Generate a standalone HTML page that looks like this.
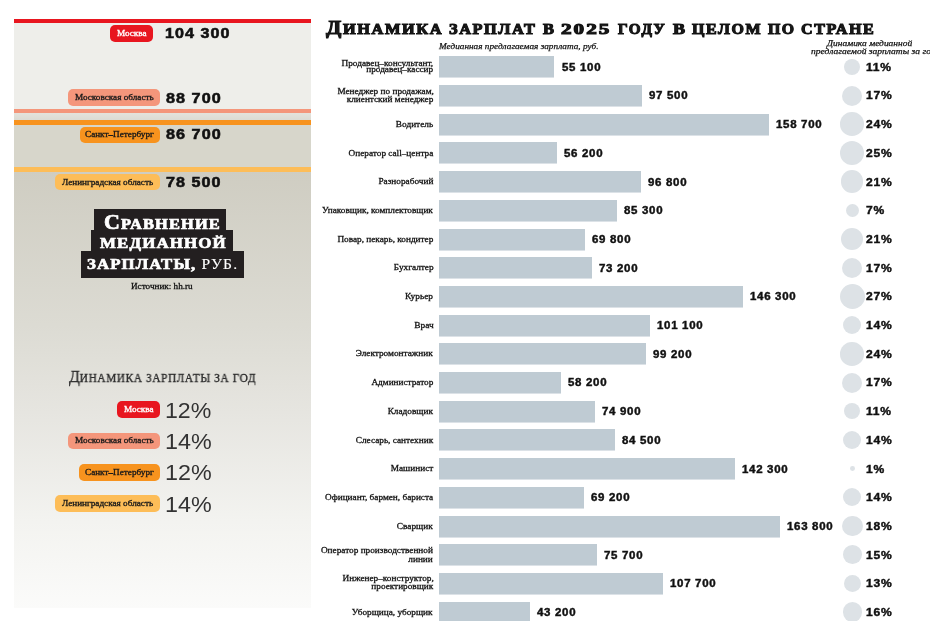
<!DOCTYPE html>
<html><head><meta charset="utf-8">
<style>
*{margin:0;padding:0;box-sizing:border-box}
html,body{width:930px;height:621px;overflow:hidden;background:#fff;position:relative}
body{font-family:"Liberation Sans",sans-serif;color:#1a1a1a}
.t{position:absolute;white-space:nowrap;will-change:transform}
.band{position:absolute;left:0;width:297px}
.badge{position:absolute;border-radius:5px}
.blk{position:absolute;background:#231f20}
.bar{position:absolute;left:439px;height:21px;background:#bfcbd3;box-shadow:0 1px 0 rgba(191,203,211,0.55)}
.circ{position:absolute;border-radius:50%;background:#dde2e6}
</style></head><body>
<div style="position:absolute;left:14px;top:19px;width:297px;height:589px;overflow:hidden">
  <div class="band" style="top:0;height:4.3px;background:#e8161f"></div>
  <div class="band" style="top:4.3px;height:85.5px;background:#eeeeea"></div>
  <div class="band" style="top:89.6px;height:4.4px;background:#f4967b"></div>
  <div class="band" style="top:94px;height:6.5px;background:linear-gradient(#e4e3dc,#dcdbd3)"></div>
  <div class="band" style="top:100.5px;height:5.5px;background:#f7931e"></div>
  <div class="band" style="top:106px;height:42.3px;background:#d7d6cb"></div>
  <div class="band" style="top:148.3px;height:4.5px;background:#fdbd58"></div>
  <div class="band" style="top:152.8px;height:437px;background:linear-gradient(#cfcdc2 0%,#dcdbd3 35%,#e6e5e0 55%,#f3f3f0 80%,#fbfbfa 100%)"></div>
</div>
<div class="badge" style="left:110.20px;top:25.20px;width:42.40px;height:16.50px;background:#e8161f"></div>
<div class="t" style="left:116.50px;transform-origin:0 0;top:29.05px;font-family:'Liberation Serif',serif;font-weight:normal;font-style:normal;font-size:9.20px;line-height:9.20px;color:#fff;-webkit-text-stroke:0.35px #fff;">Москва</div>
<div class="t" style="left:165.22px;transform-origin:0 0;top:26.15px;font-family:'Liberation Sans',sans-serif;font-weight:bold;font-style:normal;font-size:14.00px;line-height:14.00px;color:#111;transform:scaleX(1.1502);-webkit-text-stroke:0.55px #111;letter-spacing:0.9px;">104 300</div>
<div class="badge" style="left:68.40px;top:89.20px;width:91.30px;height:16.60px;background:#f4967b"></div>
<div class="t" style="left:74.65px;transform-origin:0 0;top:93.09px;font-family:'Liberation Serif',serif;font-weight:normal;font-style:normal;font-size:9.20px;line-height:9.20px;color:#1a1a1a;-webkit-text-stroke:0.35px #1a1a1a;">Московская область</div>
<div class="t" style="left:165.54px;transform-origin:0 0;top:90.75px;font-family:'Liberation Sans',sans-serif;font-weight:bold;font-style:normal;font-size:14.00px;line-height:14.00px;color:#111;transform:scaleX(1.1552);-webkit-text-stroke:0.55px #111;letter-spacing:0.9px;">88 700</div>
<div class="badge" style="left:79.60px;top:126.50px;width:80.10px;height:16.40px;background:#f7931e"></div>
<div class="t" style="left:85.15px;transform-origin:0 0;top:130.29px;font-family:'Liberation Serif',serif;font-weight:normal;font-style:normal;font-size:9.20px;line-height:9.20px;color:#1a1a1a;-webkit-text-stroke:0.35px #1a1a1a;">Санкт–Петербург</div>
<div class="t" style="left:165.54px;transform-origin:0 0;top:127.25px;font-family:'Liberation Sans',sans-serif;font-weight:bold;font-style:normal;font-size:14.00px;line-height:14.00px;color:#111;transform:scaleX(1.1552);-webkit-text-stroke:0.55px #111;letter-spacing:0.9px;">86 700</div>
<div class="badge" style="left:54.50px;top:174.10px;width:105.20px;height:16.40px;background:#fdbd58"></div>
<div class="t" style="left:61.57px;transform-origin:0 0;top:177.90px;font-family:'Liberation Serif',serif;font-weight:normal;font-style:normal;font-size:9.20px;line-height:9.20px;color:#1a1a1a;-webkit-text-stroke:0.35px #1a1a1a;">Ленинградская область</div>
<div class="t" style="left:165.71px;transform-origin:0 0;top:174.85px;font-family:'Liberation Sans',sans-serif;font-weight:bold;font-style:normal;font-size:14.00px;line-height:14.00px;color:#111;transform:scaleX(1.1515);-webkit-text-stroke:0.55px #111;letter-spacing:0.9px;">78 500</div>
<div class="badge" style="left:117.00px;top:401.40px;width:43.00px;height:16.60px;background:#e8161f"></div>
<div class="t" style="left:123.60px;transform-origin:0 0;top:405.30px;font-family:'Liberation Serif',serif;font-weight:normal;font-style:normal;font-size:9.20px;line-height:9.20px;color:#fff;-webkit-text-stroke:0.35px #fff;">Москва</div>
<div class="t" style="left:165.35px;transform-origin:0 0;top:399.55px;font-family:'Liberation Sans',sans-serif;font-weight:normal;font-style:normal;font-size:21.80px;line-height:21.80px;color:#333;transform:scaleX(1.0618);">12%</div>
<div class="badge" style="left:68.30px;top:432.50px;width:91.50px;height:16.50px;background:#f4967b"></div>
<div class="t" style="left:74.65px;transform-origin:0 0;top:436.35px;font-family:'Liberation Serif',serif;font-weight:normal;font-style:normal;font-size:9.20px;line-height:9.20px;color:#1a1a1a;-webkit-text-stroke:0.35px #1a1a1a;">Московская область</div>
<div class="t" style="left:165.14px;transform-origin:0 0;top:430.55px;font-family:'Liberation Sans',sans-serif;font-weight:normal;font-style:normal;font-size:21.80px;line-height:21.80px;color:#333;transform:scaleX(1.0691);">14%</div>
<div class="badge" style="left:79.10px;top:464.10px;width:80.70px;height:16.50px;background:#f7931e"></div>
<div class="t" style="left:84.95px;transform-origin:0 0;top:467.95px;font-family:'Liberation Serif',serif;font-weight:normal;font-style:normal;font-size:9.20px;line-height:9.20px;color:#1a1a1a;-webkit-text-stroke:0.35px #1a1a1a;">Санкт–Петербург</div>
<div class="t" style="left:165.14px;transform-origin:0 0;top:462.15px;font-family:'Liberation Sans',sans-serif;font-weight:normal;font-style:normal;font-size:21.80px;line-height:21.80px;color:#333;transform:scaleX(1.0691);">12%</div>
<div class="badge" style="left:54.60px;top:495.30px;width:105.20px;height:16.70px;background:#fdbd58"></div>
<div class="t" style="left:61.68px;transform-origin:0 0;top:499.25px;font-family:'Liberation Serif',serif;font-weight:normal;font-style:normal;font-size:9.20px;line-height:9.20px;color:#1a1a1a;-webkit-text-stroke:0.35px #1a1a1a;">Ленинградская область</div>
<div class="t" style="left:165.14px;transform-origin:0 0;top:493.55px;font-family:'Liberation Sans',sans-serif;font-weight:normal;font-style:normal;font-size:21.80px;line-height:21.80px;color:#333;transform:scaleX(1.0691);">14%</div>
<div class="blk" style="left:94px;top:209.4px;width:132.4px;height:21px"></div>
<div class="blk" style="left:91.2px;top:229.8px;width:142px;height:22px"></div>
<div class="blk" style="left:80.5px;top:251px;width:163.9px;height:26.7px"></div>
<div class="t" style="left:103.96px;transform-origin:0 0;top:211.75px;font-family:'Liberation Serif',serif;font-weight:bold;font-style:normal;font-size:20.00px;line-height:20.00px;color:#fff;transform:scaleX(1.0974);-webkit-text-stroke:0.7px #fff;letter-spacing:1.0px;">С<span style="font-size:15.0px">РАВНЕНИЕ</span></div>
<div class="t" style="left:99.53px;transform-origin:0 0;top:235.10px;font-family:'Liberation Serif',serif;font-weight:bold;font-style:normal;font-size:15.40px;line-height:15.40px;color:#fff;transform:scaleX(1.0987);-webkit-text-stroke:0.7px #fff;letter-spacing:1.0px;">МЕДИАННОЙ</div>
<div class="t" style="left:86.83px;transform-origin:0 0;top:255.59px;font-family:'Liberation Serif',serif;font-weight:bold;font-style:normal;font-size:15.30px;line-height:15.30px;color:#fff;transform:scaleX(1.0983);-webkit-text-stroke:0.7px #fff;letter-spacing:1.0px;">ЗАРПЛАТЫ, <span style="font-weight:normal;-webkit-text-stroke:0.1px #fff;font-size:14.2px">РУБ.</span></div>
<div class="t" style="left:131.04px;transform-origin:0 0;top:282.03px;font-family:'Liberation Serif',serif;font-weight:normal;font-style:normal;font-size:8.80px;line-height:8.80px;color:#111;transform:scaleX(1.0416);-webkit-text-stroke:0.3px #111;">Источник: hh.ru</div>
<div class="t" style="left:68.81px;transform-origin:0 0;top:368.36px;font-family:'Liberation Serif',serif;font-weight:normal;font-style:normal;font-size:17.00px;line-height:17.00px;color:#2b2b2b;transform:scaleX(0.9366);-webkit-text-stroke:0.35px #2b2b2b;">Д<span style="font-size:12.0px;letter-spacing:0.7px">ИНАМИКА ЗАРПЛАТЫ ЗА ГОД</span></div>
<div class="t" style="left:325.60px;top:17.58px;font-family:'Liberation Serif',serif;font-weight:bold;font-size:19.6px;line-height:19.6px;transform-origin:0 0;transform:scaleX(1.1416);-webkit-text-stroke:1.0px #111;color:#1a1a1a">Д<span style="font-size:14.3px;letter-spacing:1.4px;margin-left:1.4px">ИНАМИКА</span></div>
<div class="t" style="left:448.96px;transform-origin:0 0;top:22.02px;font-family:'Liberation Serif',serif;font-weight:bold;font-style:normal;font-size:14.30px;line-height:14.30px;color:#1a1a1a;transform:scaleX(1.1388);-webkit-text-stroke:1.0px #111;letter-spacing:1.4px;">ЗАРПЛАТ</div>
<div class="t" style="left:543.47px;transform-origin:0 0;top:22.02px;font-family:'Liberation Serif',serif;font-weight:bold;font-style:normal;font-size:14.30px;line-height:14.30px;color:#1a1a1a;transform:scaleX(1.1508);-webkit-text-stroke:1.0px #111;letter-spacing:1.4px;">В</div>
<div class="t" style="left:561.11px;transform-origin:0 0;top:22.02px;font-family:'Liberation Serif',serif;font-weight:bold;font-style:normal;font-size:14.30px;line-height:14.30px;color:#1a1a1a;transform:scaleX(1.4763);-webkit-text-stroke:1.0px #111;letter-spacing:1.4px;">2025</div>
<div class="t" style="left:618.23px;transform-origin:0 0;top:22.02px;font-family:'Liberation Serif',serif;font-weight:bold;font-style:normal;font-size:14.30px;line-height:14.30px;color:#1a1a1a;transform:scaleX(1.0657);-webkit-text-stroke:1.0px #111;letter-spacing:1.4px;">ГОДУ</div>
<div class="t" style="left:672.75px;transform-origin:0 0;top:22.02px;font-family:'Liberation Serif',serif;font-weight:bold;font-style:normal;font-size:14.30px;line-height:14.30px;color:#1a1a1a;transform:scaleX(1.2626);-webkit-text-stroke:1.0px #111;letter-spacing:1.4px;">В</div>
<div class="t" style="left:691.72px;transform-origin:0 0;top:22.02px;font-family:'Liberation Serif',serif;font-weight:bold;font-style:normal;font-size:14.30px;line-height:14.30px;color:#1a1a1a;transform:scaleX(1.1170);-webkit-text-stroke:1.0px #111;letter-spacing:1.4px;">ЦЕЛОМ</div>
<div class="t" style="left:767.92px;transform-origin:0 0;top:22.02px;font-family:'Liberation Serif',serif;font-weight:bold;font-style:normal;font-size:14.30px;line-height:14.30px;color:#1a1a1a;transform:scaleX(1.1057);-webkit-text-stroke:1.0px #111;letter-spacing:1.4px;">ПО</div>
<div class="t" style="left:800.97px;transform-origin:0 0;top:22.02px;font-family:'Liberation Serif',serif;font-weight:bold;font-style:normal;font-size:14.30px;line-height:14.30px;color:#1a1a1a;transform:scaleX(1.1246);-webkit-text-stroke:1.0px #111;letter-spacing:1.4px;">СТРАНЕ</div>
<div class="t" style="left:439.45px;transform-origin:0 0;top:42.40px;font-family:'Liberation Serif',serif;font-weight:normal;font-style:italic;font-size:9.20px;line-height:9.20px;color:#111;transform:scaleX(1.0070);-webkit-text-stroke:0.25px #111;">Медианная предлагаемая зарплата, руб.</div>
<div class="t" style="left:827.37px;transform-origin:0 0;top:39.10px;font-family:'Liberation Serif',serif;font-weight:normal;font-style:italic;font-size:8.60px;line-height:8.60px;color:#111;transform:scaleX(1.0985);-webkit-text-stroke:0.25px #111;">Динамика медианной</div>
<div class="t" style="left:810.57px;transform-origin:0 0;top:47.30px;font-family:'Liberation Serif',serif;font-weight:normal;font-style:italic;font-size:8.60px;line-height:8.60px;color:#111;transform:scaleX(1.1084);-webkit-text-stroke:0.25px #111;">предлагаемой зарплаты за год</div>
<div class="bar" style="top:56.30px;width:115.27px"></div>
<div class="t" style="right:496.44px;transform-origin:100% 0;text-align:right;top:59.06px;font-family:'Liberation Serif',serif;font-weight:normal;font-style:normal;font-size:9.00px;line-height:9.00px;color:#111;transform:scaleX(1.0279);-webkit-text-stroke:0.3px #111;">Продавец–консультант,</div>
<div class="t" style="right:496.67px;transform-origin:100% 0;text-align:right;top:65.46px;font-family:'Liberation Serif',serif;font-weight:normal;font-style:normal;font-size:9.00px;line-height:9.00px;color:#111;transform:scaleX(1.0274);-webkit-text-stroke:0.3px #111;">продавец–кассир</div>
<div class="t" style="left:561.52px;transform-origin:0 0;top:62.73px;font-family:'Liberation Sans',sans-serif;font-weight:bold;font-style:normal;font-size:10.00px;line-height:10.00px;color:#111;transform:scaleX(1.1472);-webkit-text-stroke:0.4px #111;letter-spacing:0.6px;">55 100</div>
<div class="circ" style="top:58.76px;left:844.26px;width:16.09px;height:16.09px"></div>
<div class="t" style="left:866.08px;transform-origin:0 0;top:62.73px;font-family:'Liberation Sans',sans-serif;font-weight:bold;font-style:normal;font-size:10.00px;line-height:10.00px;color:#111;transform:scaleX(1.2071);-webkit-text-stroke:0.4px #111;letter-spacing:0.6px;">11%</div>
<div class="bar" style="top:85.00px;width:203.20px"></div>
<div class="t" style="right:496.44px;transform-origin:100% 0;text-align:right;top:87.16px;font-family:'Liberation Serif',serif;font-weight:normal;font-style:normal;font-size:9.00px;line-height:9.00px;color:#111;transform:scaleX(1.0278);-webkit-text-stroke:0.3px #111;">Менеджер по продажам,</div>
<div class="t" style="right:496.65px;transform-origin:100% 0;text-align:right;top:94.56px;font-family:'Liberation Serif',serif;font-weight:normal;font-style:normal;font-size:9.00px;line-height:9.00px;color:#111;transform:scaleX(1.0268);-webkit-text-stroke:0.3px #111;">клиентский менеджер</div>
<div class="t" style="left:649.45px;transform-origin:0 0;top:91.44px;font-family:'Liberation Sans',sans-serif;font-weight:bold;font-style:normal;font-size:10.00px;line-height:10.00px;color:#111;transform:scaleX(1.1472);-webkit-text-stroke:0.4px #111;letter-spacing:0.6px;">97 500</div>
<div class="circ" style="top:85.50px;left:842.30px;width:20.00px;height:20.00px"></div>
<div class="t" style="left:866.08px;transform-origin:0 0;top:91.44px;font-family:'Liberation Sans',sans-serif;font-weight:bold;font-style:normal;font-size:10.00px;line-height:10.00px;color:#111;transform:scaleX(1.2071);-webkit-text-stroke:0.4px #111;letter-spacing:0.6px;">17%</div>
<div class="bar" style="top:113.70px;width:330.11px"></div>
<div class="t" style="right:496.73px;transform-origin:100% 0;text-align:right;top:119.86px;font-family:'Liberation Serif',serif;font-weight:normal;font-style:normal;font-size:9.00px;line-height:9.00px;color:#111;transform:scaleX(1.0322);-webkit-text-stroke:0.3px #111;">Водитель</div>
<div class="t" style="left:776.02px;transform-origin:0 0;top:120.13px;font-family:'Liberation Sans',sans-serif;font-weight:bold;font-style:normal;font-size:10.00px;line-height:10.00px;color:#111;transform:scaleX(1.1472);-webkit-text-stroke:0.4px #111;letter-spacing:0.6px;">158 700</div>
<div class="circ" style="top:112.32px;left:840.42px;width:23.76px;height:23.76px"></div>
<div class="t" style="left:866.44px;transform-origin:0 0;top:120.13px;font-family:'Liberation Sans',sans-serif;font-weight:bold;font-style:normal;font-size:10.00px;line-height:10.00px;color:#111;transform:scaleX(1.2071);-webkit-text-stroke:0.4px #111;letter-spacing:0.6px;">24%</div>
<div class="bar" style="top:142.40px;width:117.55px"></div>
<div class="t" style="right:496.91px;transform-origin:100% 0;text-align:right;top:148.56px;font-family:'Liberation Serif',serif;font-weight:normal;font-style:normal;font-size:9.00px;line-height:9.00px;color:#111;transform:scaleX(1.0294);-webkit-text-stroke:0.3px #111;">Оператор call–центра</div>
<div class="t" style="left:563.80px;transform-origin:0 0;top:148.83px;font-family:'Liberation Sans',sans-serif;font-weight:bold;font-style:normal;font-size:10.00px;line-height:10.00px;color:#111;transform:scaleX(1.1472);-webkit-text-stroke:0.4px #111;letter-spacing:0.6px;">56 200</div>
<div class="circ" style="top:140.77px;left:840.17px;width:24.25px;height:24.25px"></div>
<div class="t" style="left:866.44px;transform-origin:0 0;top:148.83px;font-family:'Liberation Sans',sans-serif;font-weight:bold;font-style:normal;font-size:10.00px;line-height:10.00px;color:#111;transform:scaleX(1.2071);-webkit-text-stroke:0.4px #111;letter-spacing:0.6px;">25%</div>
<div class="bar" style="top:171.10px;width:201.74px"></div>
<div class="t" style="right:496.82px;transform-origin:100% 0;text-align:right;top:177.26px;font-family:'Liberation Serif',serif;font-weight:normal;font-style:normal;font-size:9.00px;line-height:9.00px;color:#111;transform:scaleX(1.0298);-webkit-text-stroke:0.3px #111;">Разнорабочий</div>
<div class="t" style="left:648.00px;transform-origin:0 0;top:177.53px;font-family:'Liberation Sans',sans-serif;font-weight:bold;font-style:normal;font-size:10.00px;line-height:10.00px;color:#111;transform:scaleX(1.1472);-webkit-text-stroke:0.4px #111;letter-spacing:0.6px;">96 800</div>
<div class="circ" style="top:170.49px;left:841.19px;width:22.23px;height:22.23px"></div>
<div class="t" style="left:866.44px;transform-origin:0 0;top:177.53px;font-family:'Liberation Sans',sans-serif;font-weight:bold;font-style:normal;font-size:10.00px;line-height:10.00px;color:#111;transform:scaleX(1.2071);-webkit-text-stroke:0.4px #111;letter-spacing:0.6px;">21%</div>
<div class="bar" style="top:199.80px;width:177.90px"></div>
<div class="t" style="right:497.05px;transform-origin:100% 0;text-align:right;top:205.96px;font-family:'Liberation Serif',serif;font-weight:normal;font-style:normal;font-size:9.00px;line-height:9.00px;color:#111;transform:scaleX(1.0274);-webkit-text-stroke:0.3px #111;">Упаковщик, комплектовщик</div>
<div class="t" style="left:624.15px;transform-origin:0 0;top:206.24px;font-family:'Liberation Sans',sans-serif;font-weight:bold;font-style:normal;font-size:10.00px;line-height:10.00px;color:#111;transform:scaleX(1.1472);-webkit-text-stroke:0.4px #111;letter-spacing:0.6px;">85 300</div>
<div class="circ" style="top:203.88px;left:845.88px;width:12.83px;height:12.83px"></div>
<div class="t" style="left:866.32px;transform-origin:0 0;top:206.24px;font-family:'Liberation Sans',sans-serif;font-weight:bold;font-style:normal;font-size:10.00px;line-height:10.00px;color:#111;transform:scaleX(1.2071);-webkit-text-stroke:0.4px #111;letter-spacing:0.6px;">7%</div>
<div class="bar" style="top:228.50px;width:145.75px"></div>
<div class="t" style="right:496.67px;transform-origin:100% 0;text-align:right;top:234.66px;font-family:'Liberation Serif',serif;font-weight:normal;font-style:normal;font-size:9.00px;line-height:9.00px;color:#111;transform:scaleX(1.0278);-webkit-text-stroke:0.3px #111;">Повар, пекарь, кондитер</div>
<div class="t" style="left:591.95px;transform-origin:0 0;top:234.94px;font-family:'Liberation Sans',sans-serif;font-weight:bold;font-style:normal;font-size:10.00px;line-height:10.00px;color:#111;transform:scaleX(1.1472);-webkit-text-stroke:0.4px #111;letter-spacing:0.6px;">69 800</div>
<div class="circ" style="top:227.89px;left:841.19px;width:22.23px;height:22.23px"></div>
<div class="t" style="left:866.44px;transform-origin:0 0;top:234.94px;font-family:'Liberation Sans',sans-serif;font-weight:bold;font-style:normal;font-size:10.00px;line-height:10.00px;color:#111;transform:scaleX(1.2071);-webkit-text-stroke:0.4px #111;letter-spacing:0.6px;">21%</div>
<div class="bar" style="top:257.20px;width:152.80px"></div>
<div class="t" style="right:496.66px;transform-origin:100% 0;text-align:right;top:263.36px;font-family:'Liberation Serif',serif;font-weight:normal;font-style:normal;font-size:9.00px;line-height:9.00px;color:#111;transform:scaleX(1.0317);-webkit-text-stroke:0.3px #111;">Бухгалтер</div>
<div class="t" style="left:598.94px;transform-origin:0 0;top:263.63px;font-family:'Liberation Sans',sans-serif;font-weight:bold;font-style:normal;font-size:10.00px;line-height:10.00px;color:#111;transform:scaleX(1.1472);-webkit-text-stroke:0.4px #111;letter-spacing:0.6px;">73 200</div>
<div class="circ" style="top:257.70px;left:842.30px;width:20.00px;height:20.00px"></div>
<div class="t" style="left:866.08px;transform-origin:0 0;top:263.63px;font-family:'Liberation Sans',sans-serif;font-weight:bold;font-style:normal;font-size:10.00px;line-height:10.00px;color:#111;transform:scaleX(1.2071);-webkit-text-stroke:0.4px #111;letter-spacing:0.6px;">17%</div>
<div class="bar" style="top:285.90px;width:304.40px"></div>
<div class="t" style="right:496.66px;transform-origin:100% 0;text-align:right;top:292.06px;font-family:'Liberation Serif',serif;font-weight:normal;font-style:normal;font-size:9.00px;line-height:9.00px;color:#111;transform:scaleX(1.0347);-webkit-text-stroke:0.3px #111;">Курьер</div>
<div class="t" style="left:750.31px;transform-origin:0 0;top:292.33px;font-family:'Liberation Sans',sans-serif;font-weight:bold;font-style:normal;font-size:10.00px;line-height:10.00px;color:#111;transform:scaleX(1.1472);-webkit-text-stroke:0.4px #111;letter-spacing:0.6px;">146 300</div>
<div class="circ" style="top:283.80px;left:839.70px;width:25.20px;height:25.20px"></div>
<div class="t" style="left:866.44px;transform-origin:0 0;top:292.33px;font-family:'Liberation Sans',sans-serif;font-weight:bold;font-style:normal;font-size:10.00px;line-height:10.00px;color:#111;transform:scaleX(1.2071);-webkit-text-stroke:0.4px #111;letter-spacing:0.6px;">27%</div>
<div class="bar" style="top:314.60px;width:210.66px"></div>
<div class="t" style="right:496.83px;transform-origin:100% 0;text-align:right;top:320.76px;font-family:'Liberation Serif',serif;font-weight:normal;font-style:normal;font-size:9.00px;line-height:9.00px;color:#111;transform:scaleX(1.0390);-webkit-text-stroke:0.3px #111;">Врач</div>
<div class="t" style="left:656.57px;transform-origin:0 0;top:321.04px;font-family:'Liberation Sans',sans-serif;font-weight:bold;font-style:normal;font-size:10.00px;line-height:10.00px;color:#111;transform:scaleX(1.1472);-webkit-text-stroke:0.4px #111;letter-spacing:0.6px;">101 100</div>
<div class="circ" style="top:316.03px;left:843.23px;width:18.15px;height:18.15px"></div>
<div class="t" style="left:866.08px;transform-origin:0 0;top:321.04px;font-family:'Liberation Sans',sans-serif;font-weight:bold;font-style:normal;font-size:10.00px;line-height:10.00px;color:#111;transform:scaleX(1.2071);-webkit-text-stroke:0.4px #111;letter-spacing:0.6px;">14%</div>
<div class="bar" style="top:343.30px;width:206.72px"></div>
<div class="t" style="right:497.04px;transform-origin:100% 0;text-align:right;top:349.46px;font-family:'Liberation Serif',serif;font-weight:normal;font-style:normal;font-size:9.00px;line-height:9.00px;color:#111;transform:scaleX(1.0312);-webkit-text-stroke:0.3px #111;">Электромонтажник</div>
<div class="t" style="left:652.98px;transform-origin:0 0;top:349.74px;font-family:'Liberation Sans',sans-serif;font-weight:bold;font-style:normal;font-size:10.00px;line-height:10.00px;color:#111;transform:scaleX(1.1472);-webkit-text-stroke:0.4px #111;letter-spacing:0.6px;">99 200</div>
<div class="circ" style="top:341.92px;left:840.42px;width:23.76px;height:23.76px"></div>
<div class="t" style="left:866.44px;transform-origin:0 0;top:349.74px;font-family:'Liberation Sans',sans-serif;font-weight:bold;font-style:normal;font-size:10.00px;line-height:10.00px;color:#111;transform:scaleX(1.2071);-webkit-text-stroke:0.4px #111;letter-spacing:0.6px;">24%</div>
<div class="bar" style="top:372.00px;width:121.70px"></div>
<div class="t" style="right:496.66px;transform-origin:100% 0;text-align:right;top:378.16px;font-family:'Liberation Serif',serif;font-weight:normal;font-style:normal;font-size:9.00px;line-height:9.00px;color:#111;transform:scaleX(1.0259);-webkit-text-stroke:0.3px #111;">Администратор</div>
<div class="t" style="left:567.95px;transform-origin:0 0;top:378.44px;font-family:'Liberation Sans',sans-serif;font-weight:bold;font-style:normal;font-size:10.00px;line-height:10.00px;color:#111;transform:scaleX(1.1472);-webkit-text-stroke:0.4px #111;letter-spacing:0.6px;">58 200</div>
<div class="circ" style="top:372.50px;left:842.30px;width:20.00px;height:20.00px"></div>
<div class="t" style="left:866.08px;transform-origin:0 0;top:378.44px;font-family:'Liberation Sans',sans-serif;font-weight:bold;font-style:normal;font-size:10.00px;line-height:10.00px;color:#111;transform:scaleX(1.2071);-webkit-text-stroke:0.4px #111;letter-spacing:0.6px;">17%</div>
<div class="bar" style="top:400.70px;width:156.33px"></div>
<div class="t" style="right:497.01px;transform-origin:100% 0;text-align:right;top:406.86px;font-family:'Liberation Serif',serif;font-weight:normal;font-style:normal;font-size:9.00px;line-height:9.00px;color:#111;transform:scaleX(1.0309);-webkit-text-stroke:0.3px #111;">Кладовщик</div>
<div class="t" style="left:602.47px;transform-origin:0 0;top:407.13px;font-family:'Liberation Sans',sans-serif;font-weight:bold;font-style:normal;font-size:10.00px;line-height:10.00px;color:#111;transform:scaleX(1.1472);-webkit-text-stroke:0.4px #111;letter-spacing:0.6px;">74 900</div>
<div class="circ" style="top:403.16px;left:844.26px;width:16.09px;height:16.09px"></div>
<div class="t" style="left:866.08px;transform-origin:0 0;top:407.13px;font-family:'Liberation Sans',sans-serif;font-weight:bold;font-style:normal;font-size:10.00px;line-height:10.00px;color:#111;transform:scaleX(1.2071);-webkit-text-stroke:0.4px #111;letter-spacing:0.6px;">11%</div>
<div class="bar" style="top:429.40px;width:176.24px"></div>
<div class="t" style="right:497.00px;transform-origin:100% 0;text-align:right;top:435.56px;font-family:'Liberation Serif',serif;font-weight:normal;font-style:normal;font-size:9.00px;line-height:9.00px;color:#111;transform:scaleX(1.0298);-webkit-text-stroke:0.3px #111;">Слесарь, сантехник</div>
<div class="t" style="left:622.49px;transform-origin:0 0;top:435.83px;font-family:'Liberation Sans',sans-serif;font-weight:bold;font-style:normal;font-size:10.00px;line-height:10.00px;color:#111;transform:scaleX(1.1472);-webkit-text-stroke:0.4px #111;letter-spacing:0.6px;">84 500</div>
<div class="circ" style="top:430.83px;left:843.23px;width:18.15px;height:18.15px"></div>
<div class="t" style="left:866.08px;transform-origin:0 0;top:435.83px;font-family:'Liberation Sans',sans-serif;font-weight:bold;font-style:normal;font-size:10.00px;line-height:10.00px;color:#111;transform:scaleX(1.2071);-webkit-text-stroke:0.4px #111;letter-spacing:0.6px;">14%</div>
<div class="bar" style="top:458.10px;width:296.10px"></div>
<div class="t" style="right:496.89px;transform-origin:100% 0;text-align:right;top:464.26px;font-family:'Liberation Serif',serif;font-weight:normal;font-style:normal;font-size:9.00px;line-height:9.00px;color:#111;transform:scaleX(1.0313);-webkit-text-stroke:0.3px #111;">Машинист</div>
<div class="t" style="left:742.01px;transform-origin:0 0;top:464.54px;font-family:'Liberation Sans',sans-serif;font-weight:bold;font-style:normal;font-size:10.00px;line-height:10.00px;color:#111;transform:scaleX(1.1472);-webkit-text-stroke:0.4px #111;letter-spacing:0.6px;">142 300</div>
<div class="circ" style="top:466.18px;left:849.88px;width:4.85px;height:4.85px"></div>
<div class="t" style="left:866.08px;transform-origin:0 0;top:464.54px;font-family:'Liberation Sans',sans-serif;font-weight:bold;font-style:normal;font-size:10.00px;line-height:10.00px;color:#111;transform:scaleX(1.2071);-webkit-text-stroke:0.4px #111;letter-spacing:0.6px;">1%</div>
<div class="bar" style="top:486.80px;width:144.51px"></div>
<div class="t" style="right:496.88px;transform-origin:100% 0;text-align:right;top:492.96px;font-family:'Liberation Serif',serif;font-weight:normal;font-style:normal;font-size:9.00px;line-height:9.00px;color:#111;transform:scaleX(1.0284);-webkit-text-stroke:0.3px #111;">Официант, бармен, бариста</div>
<div class="t" style="left:590.71px;transform-origin:0 0;top:493.24px;font-family:'Liberation Sans',sans-serif;font-weight:bold;font-style:normal;font-size:10.00px;line-height:10.00px;color:#111;transform:scaleX(1.1472);-webkit-text-stroke:0.4px #111;letter-spacing:0.6px;">69 200</div>
<div class="circ" style="top:488.23px;left:843.23px;width:18.15px;height:18.15px"></div>
<div class="t" style="left:866.08px;transform-origin:0 0;top:493.24px;font-family:'Liberation Sans',sans-serif;font-weight:bold;font-style:normal;font-size:10.00px;line-height:10.00px;color:#111;transform:scaleX(1.2071);-webkit-text-stroke:0.4px #111;letter-spacing:0.6px;">14%</div>
<div class="bar" style="top:515.50px;width:340.69px"></div>
<div class="t" style="right:497.05px;transform-origin:100% 0;text-align:right;top:521.66px;font-family:'Liberation Serif',serif;font-weight:normal;font-style:normal;font-size:9.00px;line-height:9.00px;color:#111;transform:scaleX(1.0354);-webkit-text-stroke:0.3px #111;">Сварщик</div>
<div class="t" style="left:786.60px;transform-origin:0 0;top:521.93px;font-family:'Liberation Sans',sans-serif;font-weight:bold;font-style:normal;font-size:10.00px;line-height:10.00px;color:#111;transform:scaleX(1.1472);-webkit-text-stroke:0.4px #111;letter-spacing:0.6px;">163 800</div>
<div class="circ" style="top:515.71px;left:842.01px;width:20.58px;height:20.58px"></div>
<div class="t" style="left:866.08px;transform-origin:0 0;top:521.93px;font-family:'Liberation Sans',sans-serif;font-weight:bold;font-style:normal;font-size:10.00px;line-height:10.00px;color:#111;transform:scaleX(1.2071);-webkit-text-stroke:0.4px #111;letter-spacing:0.6px;">18%</div>
<div class="bar" style="top:544.20px;width:157.99px"></div>
<div class="t" style="right:496.85px;transform-origin:100% 0;text-align:right;top:545.86px;font-family:'Liberation Serif',serif;font-weight:normal;font-style:normal;font-size:9.00px;line-height:9.00px;color:#111;transform:scaleX(1.0283);-webkit-text-stroke:0.3px #111;">Оператор производственной</div>
<div class="t" style="right:496.84px;transform-origin:100% 0;text-align:right;top:554.86px;font-family:'Liberation Serif',serif;font-weight:normal;font-style:normal;font-size:9.00px;line-height:9.00px;color:#111;transform:scaleX(1.0272);-webkit-text-stroke:0.3px #111;">линии</div>
<div class="t" style="left:604.13px;transform-origin:0 0;top:550.63px;font-family:'Liberation Sans',sans-serif;font-weight:bold;font-style:normal;font-size:10.00px;line-height:10.00px;color:#111;transform:scaleX(1.1472);-webkit-text-stroke:0.4px #111;letter-spacing:0.6px;">75 700</div>
<div class="circ" style="top:545.31px;left:842.91px;width:18.78px;height:18.78px"></div>
<div class="t" style="left:866.08px;transform-origin:0 0;top:550.63px;font-family:'Liberation Sans',sans-serif;font-weight:bold;font-style:normal;font-size:10.00px;line-height:10.00px;color:#111;transform:scaleX(1.2071);-webkit-text-stroke:0.4px #111;letter-spacing:0.6px;">15%</div>
<div class="bar" style="top:572.90px;width:224.35px"></div>
<div class="t" style="right:496.45px;transform-origin:100% 0;text-align:right;top:573.56px;font-family:'Liberation Serif',serif;font-weight:normal;font-style:normal;font-size:9.00px;line-height:9.00px;color:#111;transform:scaleX(1.0279);-webkit-text-stroke:0.3px #111;">Инженер–конструктор,</div>
<div class="t" style="right:497.01px;transform-origin:100% 0;text-align:right;top:581.76px;font-family:'Liberation Serif',serif;font-weight:normal;font-style:normal;font-size:9.00px;line-height:9.00px;color:#111;transform:scaleX(1.0276);-webkit-text-stroke:0.3px #111;">проектировщик</div>
<div class="t" style="left:670.26px;transform-origin:0 0;top:579.33px;font-family:'Liberation Sans',sans-serif;font-weight:bold;font-style:normal;font-size:10.00px;line-height:10.00px;color:#111;transform:scaleX(1.1472);-webkit-text-stroke:0.4px #111;letter-spacing:0.6px;">107 700</div>
<div class="circ" style="top:574.66px;left:843.56px;width:17.49px;height:17.49px"></div>
<div class="t" style="left:866.08px;transform-origin:0 0;top:579.33px;font-family:'Liberation Sans',sans-serif;font-weight:bold;font-style:normal;font-size:10.00px;line-height:10.00px;color:#111;transform:scaleX(1.2071);-webkit-text-stroke:0.4px #111;letter-spacing:0.6px;">13%</div>
<div class="bar" style="top:601.60px;width:90.59px"></div>
<div class="t" style="right:497.03px;transform-origin:100% 0;text-align:right;top:607.76px;font-family:'Liberation Serif',serif;font-weight:normal;font-style:normal;font-size:9.00px;line-height:9.00px;color:#111;transform:scaleX(1.0283);-webkit-text-stroke:0.3px #111;">Уборщица, уборщик</div>
<div class="t" style="left:537.02px;transform-origin:0 0;top:608.03px;font-family:'Liberation Sans',sans-serif;font-weight:bold;font-style:normal;font-size:10.00px;line-height:10.00px;color:#111;transform:scaleX(1.1472);-webkit-text-stroke:0.4px #111;letter-spacing:0.6px;">43 200</div>
<div class="circ" style="top:602.40px;left:842.60px;width:19.40px;height:19.40px"></div>
<div class="t" style="left:866.08px;transform-origin:0 0;top:608.03px;font-family:'Liberation Sans',sans-serif;font-weight:bold;font-style:normal;font-size:10.00px;line-height:10.00px;color:#111;transform:scaleX(1.2071);-webkit-text-stroke:0.4px #111;letter-spacing:0.6px;">16%</div>
</body></html>
